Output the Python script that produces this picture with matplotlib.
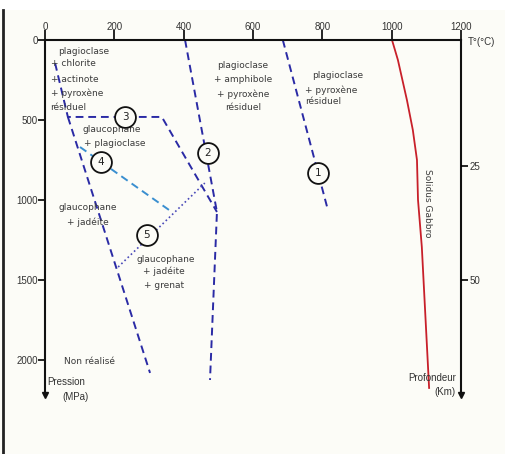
import matplotlib
matplotlib.use("Agg")
import matplotlib.pyplot as plt
from matplotlib.patches import Rectangle
from matplotlib.lines import Line2D

# limites des domaines (T en °C, P en MPa)
solidus_T = [1001, 1018, 1044, 1061, 1073, 1076, 1087, 1108]
solidus_P = [0, 125, 375, 562, 750, 1000, 1294, 2175]

ligne1_T = [686, 816]
ligne1_P = [0, 1062]

ligne2_T = [404, 496, 476]
ligne2_P = [0, 1075, 2125]

ligne3_T = [29, 66, 337, 496]
ligne3_P = [144, 481, 481, 1075]

gauche_T = [66, 303]
gauche_P = [481, 2081]

ligne4_T = [101, 366]
ligne4_P = [669, 1075]

ligne5_T = [211, 461]
ligne5_P = [1419, 894]

# numéros des réactions
num_labels = ["1", "2", "3", "4", "5"]
num_T = [787, 470, 231, 162, 294]
num_P = [831, 706, 481, 762, 1219]

# axes
x_ticks = [0, 200, 400, 600, 800, 1000, 1200]
y_ticks = [0, 500, 1000, 1500, 2000]
prof_ticks = [787, 1500]
prof_labels = ["25", "50"]

fig = plt.figure(figsize=(5.06, 4.54), dpi=100)
fig.patch.set_facecolor("white")
# fond légèrement crème + bord gauche
fig.patches.append(Rectangle((0, 0), 1, 444 / 454, transform=fig.transFigure,
                             facecolor="#fcfcf7", edgecolor="none", zorder=-10))
fig.lines.append(Line2D([3 / 506, 3 / 506], [0, 444 / 454], transform=fig.transFigure,
                        color="#222222", lw=2))

ax = fig.add_axes([45 / 506, 59 / 454, 416 / 506, 355 / 454])
ax.set_facecolor("none")
ax.set_xlim(0, 1200)
ax.set_ylim(2219, 0)

for s in ["top", "left", "right"]:
    ax.spines[s].set_linewidth(1.5)
    ax.spines[s].set_color("#111111")
ax.spines["bottom"].set_visible(False)

ax.xaxis.tick_top()
ax.set_xticks(x_ticks)
ax.set_xticklabels([str(v) for v in x_ticks], fontsize=7, family="Liberation Sans", color="#333333")
ax.set_yticks(y_ticks)
ax.set_yticklabels([str(v) for v in y_ticks], fontsize=7, family="Liberation Sans", color="#333333")
ax.tick_params(axis="x", direction="out", length=7, width=1.2, pad=-1)
ax.tick_params(axis="y", direction="out", length=5, width=1.2, pad=0)

ax2 = ax.twinx()
ax2.set_ylim(2219, 0)
ax2.set_yticks(prof_ticks)
ax2.set_yticklabels(prof_labels, fontsize=7, family="Liberation Sans", color="#333333")
ax2.tick_params(axis="y", direction="out", length=5, width=1.2, pad=1)
for s in ["top", "left", "bottom", "right"]:
    ax2.spines[s].set_visible(False)

# flèches en bas des axes verticaux
ax.plot([0, 1], [0, 0], "v", color="#111111", ms=5, transform=ax.transAxes, clip_on=False)

dash = (0, (4, 2.5))
bleu = "#2a2aa5"
ax.plot(ligne1_T, ligne1_P, color=bleu, lw=1.4, ls=dash)
ax.plot(ligne2_T, ligne2_P, color=bleu, lw=1.4, ls=dash)
ax.plot(ligne3_T, ligne3_P, color=bleu, lw=1.4, ls=dash)
ax.plot(gauche_T, gauche_P, color=bleu, lw=1.4, ls=dash)
ax.plot(ligne4_T, ligne4_P, color="#3a8fd0", lw=1.4, ls=dash)
ax.plot(ligne5_T, ligne5_P, color="#4848b8", lw=1.2, ls=":")
ax.plot(solidus_T, solidus_P, color="#c8202a", lw=1.3)

for lab, t, p in zip(num_labels, num_T, num_P):
    ax.plot(t, p, "o", ms=15, mfc="#fcfcf7", mec="#111111", mew=1.3, zorder=5)
    ax.text(t, p, lab, fontsize=7.5, ha="center", va="center", color="#222222", zorder=6)

gris = "#3c3c3c"
kw = dict(fontsize=6.5, color=gris, va="center")
ax.text(37, 75, "plagioclase", ha="left", **kw)
ax.text(17, 150, "+ chlorite", ha="left", **kw)
ax.text(17, 244, "+ actinote", ha="left", **kw)
ax.text(17, 331, "+ pyroxène", ha="left", **kw)
ax.text(14, 419, "résiduel", ha="left", **kw)

ax.text(571, 162, "plagioclase", ha="center", **kw)
ax.text(571, 250, "+ amphibole", ha="center", **kw)
ax.text(571, 337, "+ pyroxène", ha="center", **kw)
ax.text(571, 425, "résiduel", ha="center", **kw)

ax.text(770, 219, "plagioclase", ha="left", **kw)
ax.text(750, 312, "+ pyroxène", ha="left", **kw)
ax.text(750, 387, "résiduel", ha="left", **kw)

ax.text(193, 562, "glaucophane", ha="center", **kw)
ax.text(202, 650, "+ plagioclase", ha="center", **kw)

ax.text(124, 1044, "glaucophane", ha="center", **kw)
ax.text(124, 1137, "+ jadéite", ha="center", **kw)

ax.text(349, 1369, "glaucophane", ha="center", **kw)
ax.text(343, 1444, "+ jadéite", ha="center", **kw)
ax.text(343, 1537, "+ grenat", ha="center", **kw)

ax.text(127, 2012, "Non réalisé", ha="center", **kw)

ax.text(1102, 1019, "Solidus Gabbro", rotation=-90, ha="center", **kw)

lab_kw = dict(fontsize=7, family="Liberation Sans", color="#333333", va="center", clip_on=False)
ax.text(61, 2137, "Pression", ha="center", **lab_kw)
ax.text(87, 2231, "(MPa)", ha="center", **lab_kw)
ax.text(1116, 2112, "Profondeur", ha="center", **lab_kw)
ax.text(1154, 2200, "(Km)", ha="center", **lab_kw)
ax.text(1220, 12, "T°(°C)", ha="left", **lab_kw)

fig.savefig("out.png", dpi=100)
